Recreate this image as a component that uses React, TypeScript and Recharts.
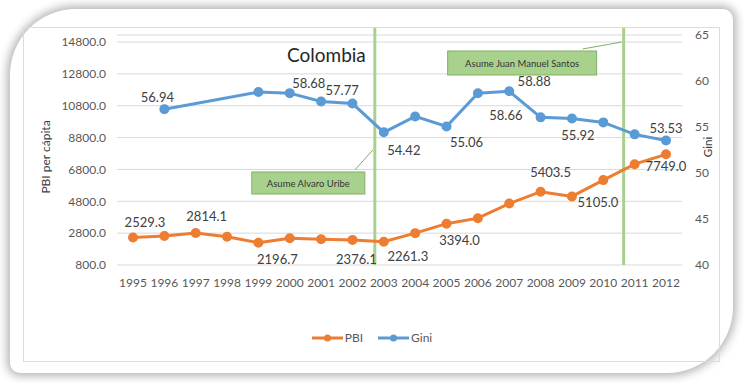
import { LineChart, Line, XAxis, YAxis, CartesianGrid, Legend, ReferenceLine, LabelList, Label } from "recharts";

const years = ["1995", "1996", "1997", "1998", "1999", "2000", "2001", "2002", "2003", "2004", "2005", "2006", "2007", "2008", "2009", "2010", "2011", "2012"];
const pbi = [2529.3, 2620, 2814.1, 2570, 2196.7, 2485, 2420, 2376.1, 2261.3, 2800, 3394.0, 3740, 4660, 5403.5, 5105.0, 6130, 7130, 7749.0];
const gini = [null, 56.94, null, null, 58.8, 58.68, 57.77, 57.55, 54.42, 56.15, 55.06, 58.66, 58.88, 56.05, 55.92, 55.5, 54.2, 53.53];
const pbiTicks = [800, 2800, 4800, 6800, 8800, 10800, 12800, 14800];
const giniTicks = [40, 45, 50, 55, 60, 65];
const pbiLabelYears = ["1995", "1997", "1999", "2002", "2003", "2005", "2008", "2009", "2012"];
const giniLabelYears = ["1996", "2000", "2001", "2003", "2005", "2006", "2007", "2009", "2012"];

// where each data label sits relative to its point (dx, dy)
const PBI_LABEL_POS: Record<string, [number, number]> = {
  "1995": [12, -15], "1997": [11, -17], "1999": [19, 16], "2002": [4, 19], "2003": [24, 14],
  "2005": [13, 16], "2008": [10, -20], "2009": [26, 6], "2012": [0, 12],
};
const GINI_LABEL_POS: Record<string, [number, number]> = {
  "1996": [-7, -12], "2000": [19, -10], "2001": [21, -12], "2003": [20, 18], "2005": [20, 16],
  "2006": [28, 22], "2007": [25, -10], "2009": [6, 16], "2012": [0, -13],
};

const data = years.map((year, i) => ({ year, pbi: pbi[i], gini: gini[i] }));

const FONT = 'Lato, "Open Sans", sans-serif';
const ORANGE = "#ed7d31";
const BLUE = "#5b9bd5";
const GREEN = "#a9d18e";
const GREEN_DARK = "#7fb060";
const TICK = { fontSize: 12, fill: "#595959", fontFamily: FONT };

const makeLabel = (labelYears: string[], pos: Record<string, [number, number]>, digits: number) =>
  (props: any) => {
    const year = years[props.index];
    if (!labelYears.includes(year) || props.value == null) return null;
    const [dx, dy] = pos[year];
    return (
      <text x={props.x + dx} y={props.y + dy} textAnchor="middle" dominantBaseline="central"
        fontSize={13} fill="#404040" fontFamily={FONT}>
        {Number(props.value).toFixed(digits)}
      </text>
    );
  };

const callout = (text: string, shift: number, box: [number, number, number, number], link: [number, number, number, number]) =>
  (p: any) => {
    const x = p.x1 + shift;
    const top = Math.min(p.y1, p.y2);
    const bottom = Math.max(p.y1, p.y2);
    const [bx, by, bw, bh] = box;
    return (
      <g>
        <line x1={x} y1={top - 7} x2={x} y2={bottom} stroke={GREEN} strokeWidth={3} />
        <line x1={x + link[0]} y1={top + link[1]} x2={x + link[2]} y2={top + link[3]} stroke={GREEN_DARK} strokeWidth={1} />
        <rect x={x + bx} y={top + by} width={bw} height={bh} fill={GREEN} stroke={GREEN_DARK} strokeWidth={1} />
        <text x={x + bx + bw / 2} y={top + by + bh / 2} textAnchor="middle" dominantBaseline="central"
          fontSize={9.5} fill="#333" fontFamily={FONT}>{text}</text>
      </g>
    );
  };

const legendItems = [
  { name: "PBI", color: ORANGE },
  { name: "Gini", color: BLUE },
];

const renderLegend = () => (
  <div style={{ display: "flex", justifyContent: "center", gap: 15, fontFamily: FONT, fontSize: 12, color: "#595959" }}>
    {legendItems.map((item) => (
      <div key={item.name} style={{ display: "flex", alignItems: "center", gap: 2 }}>
        <svg width={31} height={10}>
          <line x1={0} y1={5} x2={31} y2={5} stroke={item.color} strokeWidth={3} />
          <circle cx={15.5} cy={5} r={3.5} fill={item.color} />
        </svg>
        <span>{item.name}</span>
      </div>
    ))}
  </div>
);

const axisTitle = (text: string, dx: number, cy: number, size: number) => (props: any) => {
  const vb = props.viewBox;
  const x = vb.x + dx;
  return (
    <text x={x} y={cy} transform={`rotate(-90, ${x}, ${cy})`} textAnchor="middle" dominantBaseline="central"
      fontSize={size} fill="#404040" fontFamily={FONT}>{text}</text>
  );
};

export default function App() {
  return (
    <div style={{ position: "absolute", left: 0, top: 0, width: 744, height: 383, background: "#fff", overflow: "hidden", fontFamily: FONT }}>
      <div style={{ position: "absolute", left: 10, top: 9, width: 723, height: 364, background: "#fff", borderRadius: "66px 10px 66px 10px", boxShadow: "0 0 10px 3px rgba(0,0,0,0.3)" }} />
      <div style={{ position: "absolute", left: 23, top: 27, width: 695, height: 333, border: "1px solid #dcdcdc" }} />
      <div style={{ position: "absolute", left: 287, top: 45, fontSize: 19, lineHeight: "19px", color: "#262626", whiteSpace: "nowrap" }}>Colombia</div>
      <div style={{ position: "absolute", left: 0, top: 0 }}>
        <LineChart width={744} height={383} data={data} margin={{ top: 35, right: 20, bottom: 88, left: 0 }}>
          <CartesianGrid yAxisId="left" vertical={false} stroke="#d9d9d9" />
          <XAxis dataKey="year" axisLine={false} tickLine={false} tickSize={0} tickMargin={13} height={30} tick={TICK}
            interval={0} padding={{ left: 16, right: 16 }} />
          <YAxis yAxisId="left" width={117} domain={[800, 15240]} ticks={pbiTicks} axisLine={false} tickLine={false}
            tickSize={0} tickMargin={11} tick={TICK} tickFormatter={(v: number) => v.toFixed(1)}>
            <Label content={axisTitle("PBI per cápita", 45, 157, 12)} />
          </YAxis>
          <YAxis yAxisId="right" orientation="right" width={42} domain={[40, 65]} ticks={giniTicks} axisLine={false}
            tickLine={false} tickSize={0} tickMargin={13} tick={TICK}>
            <Label content={axisTitle("Gini", 25, 147, 11.5)} />
          </YAxis>
          <ReferenceLine yAxisId="left" x="2003" ifOverflow="visible"
            shape={callout("Asume Alvaro Uribe", -9, [-123, 137, 113, 22], [-20, 135, -2, 115])} />
          <ReferenceLine yAxisId="left" x="2011" ifOverflow="visible"
            shape={callout("Asume Juan Manuel Santos", -11, [-176, 16, 149, 24], [-41, 14, -2, 7])} />
          <Line yAxisId="left" type="linear" dataKey="pbi" name="PBI" stroke={ORANGE} strokeWidth={3}
            dot={{ r: 3.5, fill: ORANGE, stroke: ORANGE }} isAnimationActive={false}>
            <LabelList dataKey="pbi" content={makeLabel(pbiLabelYears, PBI_LABEL_POS, 1)} />
          </Line>
          <Line yAxisId="right" type="linear" dataKey="gini" name="Gini" stroke={BLUE} strokeWidth={3} connectNulls
            dot={{ r: 3.5, fill: BLUE, stroke: BLUE }} isAnimationActive={false}>
            <LabelList dataKey="gini" content={makeLabel(giniLabelYears, GINI_LABEL_POS, 2)} />
          </Line>
          <Legend layout="horizontal" verticalAlign="middle" align="center" content={renderLegend}
            wrapperStyle={{ top: 330, left: 0, width: 744 }} />
        </LineChart>
      </div>
    </div>
  );
}
